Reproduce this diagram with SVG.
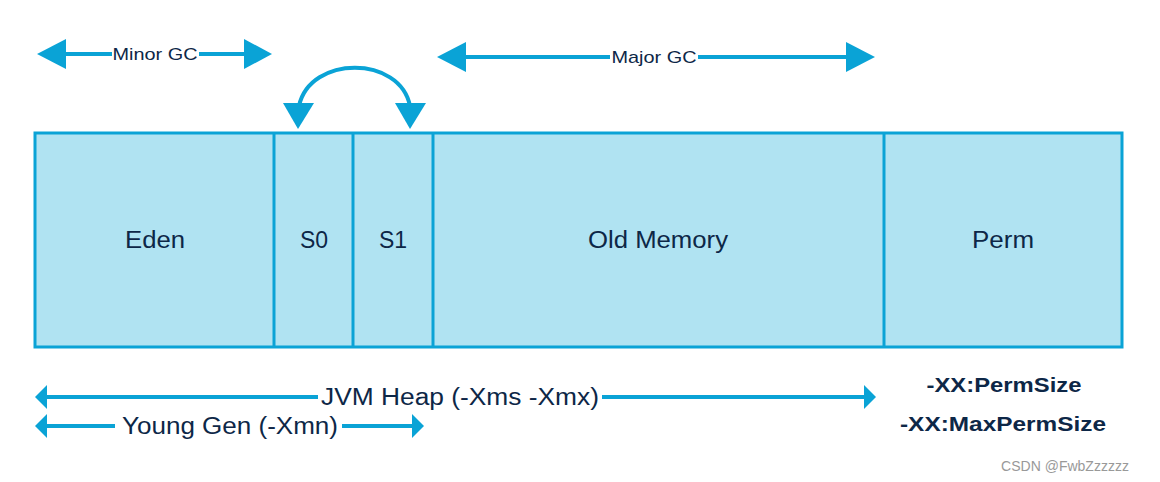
<svg xmlns="http://www.w3.org/2000/svg" width="1160" height="482" viewBox="0 0 1160 482">
<style>
.t{font-family:"Liberation Sans",Arial,sans-serif;fill:#0d2747}
.box{fill:#b0e3f2;stroke:#0aa3d6;stroke-width:3}
.ln{stroke:#0aa3d6;fill:none}
.hd{fill:#0aa3d6}
</style>
<rect width="1160" height="482" fill="#fff"/>
<g id="heap">
<rect class="box" x="35" y="133" width="1087" height="214"/>
</g>
<g id="eden"><text class="t" x="155" y="248" font-size="23" text-anchor="middle" textLength="60" lengthAdjust="spacingAndGlyphs">Eden</text></g>
<g id="s0"><line class="ln" stroke-width="3" x1="274" y1="133" x2="274" y2="347"/><text class="t" x="314" y="248" font-size="23" text-anchor="middle">S0</text></g>
<g id="s1"><line class="ln" stroke-width="3" x1="353" y1="133" x2="353" y2="347"/><text class="t" x="393" y="248" font-size="23" text-anchor="middle">S1</text></g>
<g id="old"><line class="ln" stroke-width="3" x1="433" y1="133" x2="433" y2="347"/><text class="t" x="658" y="248" font-size="23" text-anchor="middle" textLength="140" lengthAdjust="spacingAndGlyphs">Old Memory</text></g>
<g id="perm"><line class="ln" stroke-width="3" x1="884" y1="133" x2="884" y2="347"/><text class="t" x="1003" y="248" font-size="23" text-anchor="middle" textLength="62" lengthAdjust="spacingAndGlyphs">Perm</text></g>
<g id="connectors">
<line class="ln" stroke-width="4" x1="60" y1="54" x2="112" y2="54"/>
<line class="ln" stroke-width="4" x1="199" y1="54" x2="248" y2="54"/>
<polygon class="hd" points="37,54 66,39 66,69"/>
<polygon class="hd" points="272,54 244,39 244,69"/>
<line class="ln" stroke-width="4" x1="460" y1="57" x2="610" y2="57"/>
<line class="ln" stroke-width="4" x1="698" y1="57" x2="850" y2="57"/>
<polygon class="hd" points="437,57 466,42 466,72"/>
<polygon class="hd" points="875,57 846,42 846,72"/>
<path class="ln" stroke-width="4" d="M299,106 C310,55 400,55 410,106"/>
<polygon class="hd" points="283,103 314,103 298,129"/>
<polygon class="hd" points="395,103 426,103 410,129"/>
<line class="ln" stroke-width="4" x1="44" y1="397" x2="318" y2="397"/>
<line class="ln" stroke-width="4" x1="602" y1="397" x2="866" y2="397"/>
<polygon class="hd" points="35,397 47,385 47,409"/>
<polygon class="hd" points="876,397 864,385 864,409"/>
<line class="ln" stroke-width="4" x1="44" y1="426" x2="115" y2="426"/>
<line class="ln" stroke-width="4" x1="342" y1="426" x2="414" y2="426"/>
<polygon class="hd" points="35,426 47,414 47,438"/>
<polygon class="hd" points="424,426 412,414 412,438"/>
</g>
<g id="labels">
<text class="t" x="155" y="60" font-size="17" text-anchor="middle" textLength="85" lengthAdjust="spacingAndGlyphs">Minor GC</text>
<text class="t" x="654" y="63" font-size="17" text-anchor="middle" textLength="85" lengthAdjust="spacingAndGlyphs">Major GC</text>
<text class="t" x="460" y="405" font-size="23" text-anchor="middle" textLength="278" lengthAdjust="spacingAndGlyphs">JVM Heap (-Xms -Xmx)</text>
<text class="t" x="230" y="434" font-size="23" text-anchor="middle" textLength="216" lengthAdjust="spacingAndGlyphs">Young Gen (-Xmn)</text>
<text class="t" x="1004" y="392" font-size="20" font-weight="bold" text-anchor="middle" textLength="155" lengthAdjust="spacingAndGlyphs">-XX:PermSize</text>
<text class="t" x="1003" y="431" font-size="20" font-weight="bold" text-anchor="middle" textLength="206" lengthAdjust="spacingAndGlyphs">-XX:MaxPermSize</text>
<text x="1065" y="471" font-size="14" text-anchor="middle" fill="#999" font-family="Liberation Sans,Arial,sans-serif">CSDN @FwbZzzzzz</text>
</g>
</svg>
